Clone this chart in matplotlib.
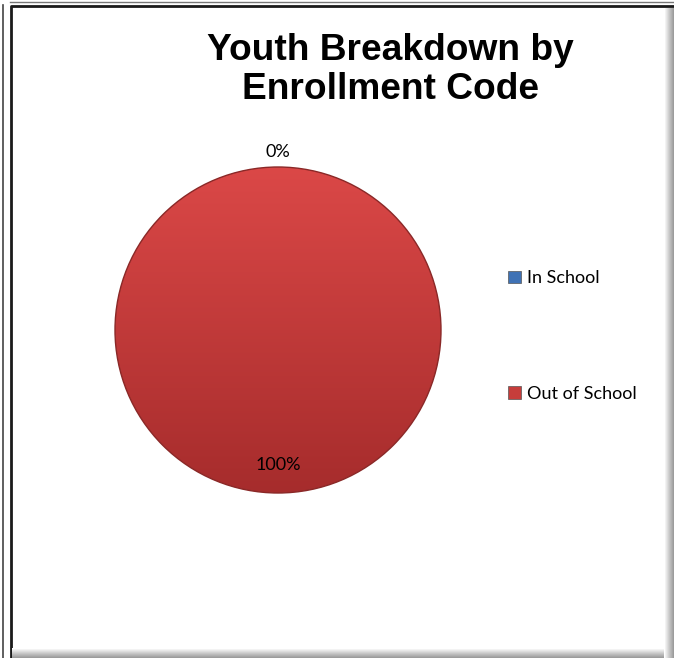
import numpy as np
import matplotlib.pyplot as plt
from matplotlib.patches import Rectangle, Circle
from matplotlib.lines import Line2D

categories = ["In School", "Out of School"]
shares = [0, 100]
colors = ["#3f72b5", "#c63d3b"]
title = "Youth Breakdown by\nEnrollment Code"

W, H = 674, 658
fig = plt.figure(figsize=(W / 100, H / 100), dpi=100)
fig.patch.set_facecolor("white")

# pie axes, square, centred around (278, 330) px
R = 163
size = 2.5 * R
cx, cy = 278, H - 330
ax = fig.add_axes([(cx - size / 2) / W, (cy - size / 2) / H, size / W, size / H])

wedges, _ = ax.pie(shares, colors=colors, startangle=90, counterclock=False,
                   wedgeprops=dict(linewidth=0))
ax.set_aspect("equal")
ax.axis("off")

# vertical shading inside the red slice
grad = np.linspace(0, 1, 256)[:, None]
top = np.array([219, 72, 71]) / 255
bot = np.array([166, 44, 44]) / 255
img = top[None, None, :] * (1 - grad[:, :, None]) + bot[None, None, :] * grad[:, :, None]
img = np.repeat(img, 2, axis=1)
for w, v in zip(wedges, shares):
    if v > 0:
        im = ax.imshow(img, extent=(-1, 1, -1, 1), origin="upper",
                       zorder=w.get_zorder() - 0.1, aspect="auto")
        im.set_clip_path(w)
        w.set_facecolor("none")
# outer rim of the pie
ax.add_patch(Circle((0, 0), 1, facecolor="none", edgecolor="#8a2827", linewidth=1.0, zorder=3))
ax.set_xlim(-1.25, 1.25)
ax.set_ylim(-1.25, 1.25)

# percentage labels: outside for empty slices, inside otherwise
total = sum(shares)
for w, v in zip(wedges, shares):
    ang = np.deg2rad((w.theta1 + w.theta2) / 2)
    r = 1.09 if v == 0 else 0.83
    ax.text(r * np.cos(ang), r * np.sin(ang), f"{v / total * 100:.0f}%",
            ha="center", va="center", fontsize=13, family="Lato", color="black", zorder=4)

fig.text(390 / W, 1 - 70 / H, title, ha="center", va="center", fontsize=26.7,
         fontweight="bold", family="Liberation Sans", linespacing=1.15)

handles = [Rectangle((0, 0), 1, 1, facecolor=c, edgecolor="#555555", linewidth=0.5)
           for c in colors]
fig.legend(handles, categories, loc="center left", bbox_to_anchor=(508 / W, 1 - 336 / H),
           frameon=False, borderpad=0, borderaxespad=0, handlelength=0.7,
           handleheight=0.7, handletextpad=0.35, labelspacing=5.5,
           prop=dict(family="Lato", size=13))

# frame around the chart area
fig.add_artist(Line2D([2.5 / W, 2.5 / W], [0, 1 - 5 / H], transform=fig.transFigure,
                      color="#444444", linewidth=1.2))
fig.add_artist(Line2D([10 / W, 1], [1 - 2 / H, 1 - 2 / H], transform=fig.transFigure,
                      color="#777777", linewidth=1.0))
fig.add_artist(Line2D([11 / W, 11 / W, 1], [0, 1 - 5.5 / H, 1 - 5.5 / H],
                      transform=fig.transFigure, color="#1a1a1a", linewidth=2.0))
# soft shadow right and bottom
shade = np.linspace(1, 0.72, 10) ** 1.5
fig.figimage(np.tile(shade[None, :], (H - 8, 1)), xo=W - 10, yo=0, cmap="gray",
             vmin=0, vmax=1, zorder=5)
fig.figimage(np.tile(shade[:, None], (1, W - 22)), xo=12, yo=0, cmap="gray",
             vmin=0, vmax=1, zorder=5, origin="upper")

fig.savefig("out.png", dpi=100)
